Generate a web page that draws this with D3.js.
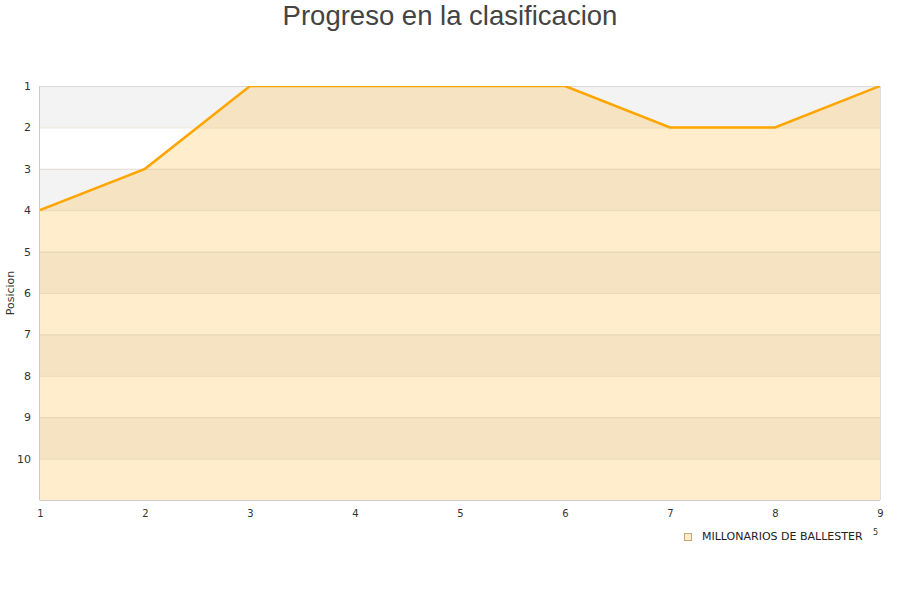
<!DOCTYPE html>
<html><head><meta charset="utf-8">
<script src="https://cdn.jsdelivr.net/npm/d3@7"></script>
<style>body{margin:0;background:#fff;font-family:"DejaVu Sans",sans-serif;}</style>
</head><body><svg id="c" width="900" height="600"></svg>
<script>
const title = "Progreso en la clasificacion";
const yLabel = "Posicion";
const seriesName = "MILLONARIOS DE BALLESTER";
const jornadas = [1,2,3,4,5,6,7,8,9];
const posiciones = [4,3,1,1,1,1,2,2,1];
const yTicks = [1,2,3,4,5,6,7,8,9,10];

const svg = d3.select("#c");
const L=40,R=880,T=86,B=500;
const x = d3.scaleLinear().domain([1,9]).range([L,R]);
const y = d3.scaleLinear().domain([1,11]).range([T,B]);

const bands = d3.range(1,11);
svg.append("g").selectAll("rect").data(bands).join("rect")
  .attr("x",L).attr("width",R-L)
  .attr("y",d=>y(d)).attr("height",d=>y(d+1)-y(d))
  .attr("fill",d=>d%2===1?"#f3f3f3":"#ffffff");

svg.append("defs").append("clipPath").attr("id","clip")
  .append("rect").attr("x",L).attr("y",T).attr("width",R-L).attr("height",B-T);

const pts = jornadas.map((j,i)=>[j,posiciones[i]]);
svg.append("path").datum(pts)
  .attr("d",d3.area().x(d=>x(d[0])).y0(y(11)).y1(d=>y(d[1])))
  .attr("fill","rgba(255,165,0,0.2)");

svg.append("g").selectAll("line").data(yTicks.slice(1)).join("line")
  .attr("x1",L).attr("x2",R).attr("y1",d=>y(d)+0.5).attr("y2",d=>y(d)+0.5)
  .attr("stroke","rgba(200,180,150,0.35)").attr("stroke-width",1);

svg.append("line").attr("x1",L).attr("x2",R).attr("y1",T+0.5).attr("y2",T+0.5).attr("stroke","#d8d8d8");
svg.append("line").attr("x1",R+0.5).attr("x2",R+0.5).attr("y1",T).attr("y2",B).attr("stroke","#dddddd");
svg.append("line").attr("x1",L-0.5).attr("x2",L-0.5).attr("y1",T).attr("y2",B+0.5).attr("stroke","#cccccc");
svg.append("line").attr("x1",L).attr("x2",R).attr("y1",B+0.5).attr("y2",B+0.5).attr("stroke","#cccccc");

svg.append("path").datum(pts).attr("clip-path","url(#clip)")
  .attr("d",d3.line().x(d=>x(d[0])).y(d=>y(d[1])))
  .attr("fill","none").attr("stroke","#ffa500").attr("stroke-width",2.5);

const yAxis = d3.axisLeft(y).tickValues(yTicks).tickSize(0).tickPadding(9);
const gy = svg.append("g").attr("transform",`translate(${L},0)`).call(yAxis);
gy.select(".domain").remove();
gy.selectAll("text").attr("font-size",11).attr("fill","#333").attr("font-family","DejaVu Sans");

const xAxis = d3.axisBottom(x).tickValues(jornadas).tickFormat(d3.format("d")).tickSize(0).tickPadding(10);
const gx = svg.append("g").attr("transform",`translate(0,${B})`).call(xAxis);
gx.select(".domain").remove();
gx.selectAll("text").attr("font-size",10).attr("fill","#333").attr("font-family","DejaVu Sans");

svg.append("text").attr("x",450).attr("y",25).attr("text-anchor","middle")
  .attr("font-size",27.5).attr("fill","#444").attr("font-family","Liberation Sans, Arial, sans-serif").text(title);

svg.append("text").attr("transform","translate(14,293) rotate(-90)").attr("text-anchor","middle")
  .attr("font-size",11).attr("fill","#333").text(yLabel);

svg.append("rect").attr("x",684.5).attr("y",533.5).attr("width",7).attr("height",7)
  .attr("fill","rgba(255,165,0,0.2)").attr("stroke","#c8a870");
svg.append("text").attr("x",702).attr("y",540).attr("font-size",11).attr("fill","#222").text(seriesName);
svg.append("text").attr("x",873).attr("y",535).attr("font-size",8).attr("fill","#333").text("5");
</script></body></html>
